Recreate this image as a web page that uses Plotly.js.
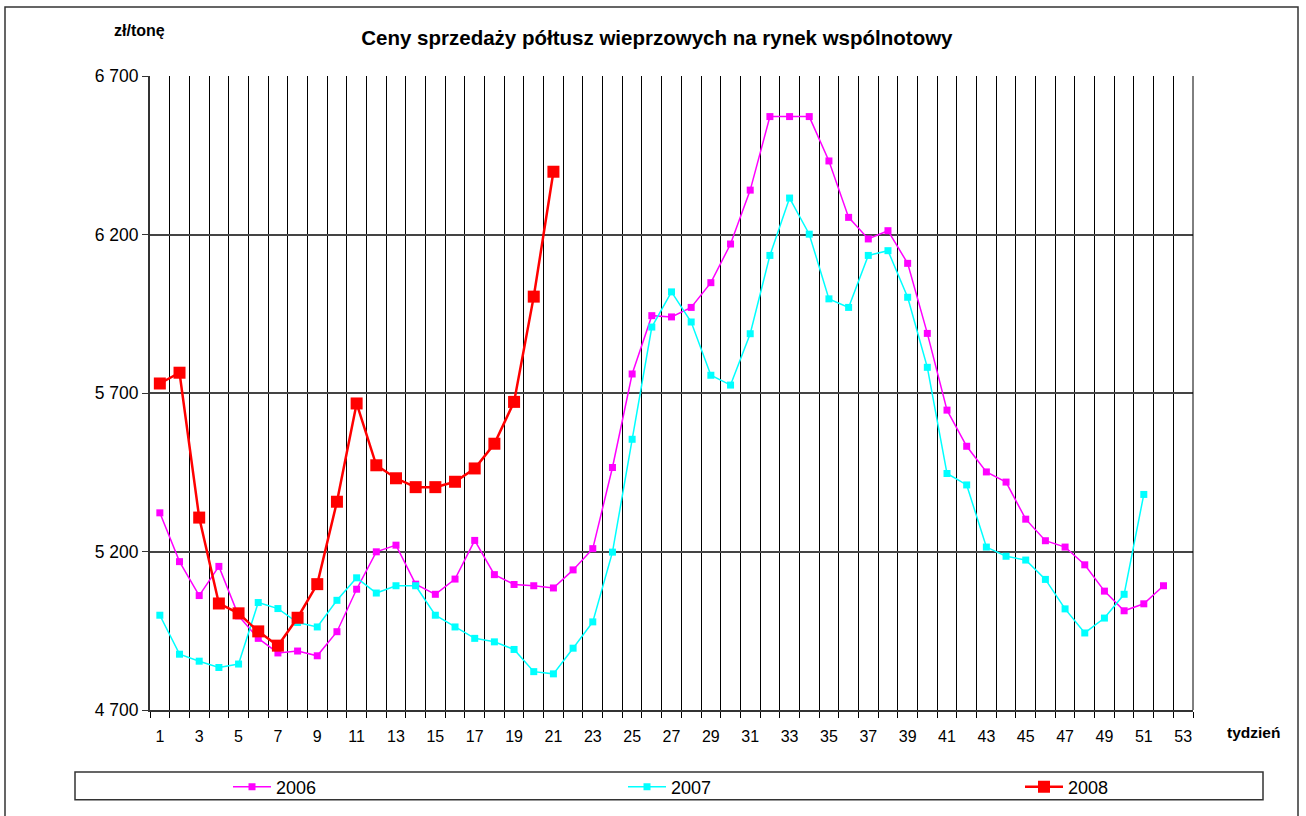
<!DOCTYPE html>
<html>
<head>
<meta charset="utf-8">
<script src="https://cdn.plot.ly/plotly-3.0.1.min.js"></script>
<style>html,body{margin:0;padding:0;background:#fff;}#chart{width:1306px;height:816px;}</style>
</head>
<body>
<div id="chart"></div>
<script>
const weeks2006 = Array.from({length: 52}, (_, i) => i + 1);
const weeks2007 = Array.from({length: 51}, (_, i) => i + 1);
const weeks2008 = Array.from({length: 21}, (_, i) => i + 1);

const prices2006 = [5322, 5168, 5061, 5153, 4997, 4926, 4880, 4886, 4871, 4947,
  5081, 5199, 5220, 5097, 5065, 5113, 5235, 5127, 5096, 5092,
  5085, 5142, 5209, 5465, 5760, 5944, 5940, 5970, 6048, 6170,
  6340, 6572, 6572, 6572, 6432, 6254, 6186, 6212, 6109, 5888,
  5646, 5532, 5451, 5419, 5302, 5234, 5214, 5158, 5075, 5013,
  5035, 5092];
const prices2007 = [4999, 4876, 4854, 4834, 4845, 5039, 5020, 4976, 4962, 5046,
  5117, 5069, 5092, 5092, 4999, 4962, 4926, 4915, 4891, 4821,
  4814, 4895, 4978, 5198, 5554, 5908, 6019, 5924, 5756, 5725,
  5887, 6134, 6315, 6201, 5997, 5970, 6134, 6149, 6002, 5781,
  5446, 5410, 5214, 5185, 5173, 5112, 5019, 4943, 4990, 5065,
  5380];
const prices2008 = [5730, 5764, 5307, 5036, 5005, 4948, 4903, 4991, 5097, 5357,
  5667, 5472, 5431, 5403, 5403, 5420, 5462, 5540, 5672, 6004,
  6398];

const xTickVals = Array.from({length: 27}, (_, i) => 2 * i + 1);
const yTickVals = [4700, 5200, 5700, 6200, 6700];

const W = 1043, H = 635; // plot area size for paper conversions
const px = x => (x - 150) / W;
const py = y => (711 - y) / H;

const traces = [
  {x: weeks2006, y: prices2006, name: '2006', type: 'scatter', mode: 'lines+markers', legend: 'legend',
   line: {color: '#FF00FF', width: 1.5}, marker: {symbol: 'square', size: 7, color: '#FF00FF'}},
  {x: weeks2007, y: prices2007, name: '2007', type: 'scatter', mode: 'lines+markers', legend: 'legend2',
   line: {color: '#00FFFF', width: 1.5}, marker: {symbol: 'square', size: 7, color: '#00FFFF'}},
  {x: weeks2008, y: prices2008, name: '2008', type: 'scatter', mode: 'lines+markers', legend: 'legend3',
   line: {color: '#FF0000', width: 2.5}, marker: {symbol: 'square', size: 12, color: '#FF0000'}}
];

const legendBase = {
  orientation: 'h', xanchor: 'left', y: py(787), yanchor: 'middle',
  font: {size: 18}, bgcolor: 'rgba(0,0,0,0)', borderwidth: 0, itemwidth: 38
};

const layout = {
  width: 1306, height: 816,
  margin: {l: 150, r: 113, t: 76, b: 105},
  paper_bgcolor: '#ffffff', plot_bgcolor: '#ffffff',
  font: {family: 'Liberation Sans, Arial, sans-serif', color: '#000', size: 16},
  separators: ', ',
  showlegend: true,
  title: {text: '<b>Ceny sprzedaży półtusz wieprzowych na rynek wspólnotowy</b>',
          font: {size: 20.5, family: 'Liberation Sans, Arial, sans-serif'},
          x: 0.503, xanchor: 'center', y: 1 - 38/816, yanchor: 'middle'},
  xaxis: {
    range: [0.5, 53.5], tickvals: xTickVals, ticks: '', showgrid: false,
    zeroline: false, showline: true, linecolor: '#333', linewidth: 2,
    tickfont: {size: 16}, ticklabelstandoff: 11,
    minor: {tick0: 0.5, dtick: 1, showgrid: true, gridcolor: '#000', gridwidth: 1,
            ticks: 'outside', ticklen: 6, tickcolor: '#000', tickwidth: 1},
    fixedrange: true
  },
  yaxis: {
    range: [4700, 6700], tickvals: yTickVals, tickformat: ',d',
    showgrid: true, gridcolor: '#444', gridwidth: 2, zeroline: false,
    showline: true, linecolor: '#333', linewidth: 2,
    ticks: 'outside', ticklen: 6, tickcolor: '#333', tickfont: {size: 17.5},
    fixedrange: true
  },
  legend: Object.assign({}, legendBase, {x: px(228)}),
  legend2: Object.assign({}, legendBase, {x: px(623)}),
  legend3: Object.assign({}, legendBase, {x: px(1020)}),
  shapes: [
    {type: 'rect', xref: 'paper', yref: 'paper', x0: px(75), x1: px(1263), y0: py(801), y1: py(773),
     line: {color: '#333', width: 1.5}, fillcolor: 'rgba(0,0,0,0)', layer: 'below'},
    {type: 'rect', xref: 'paper', yref: 'paper', x0: px(5), x1: px(1298), y0: py(830), y1: py(7),
     line: {color: '#333', width: 1.5}, fillcolor: 'rgba(0,0,0,0)', layer: 'below'},
    {type: 'line', xref: 'paper', yref: 'paper', x0: 1, x1: 1, y0: 0, y1: 1,
     line: {color: '#000', width: 1}}
  ],
  annotations: [
    {text: '<b>zł/tonę</b>', xref: 'paper', yref: 'paper', x: px(139), y: py(30),
     xanchor: 'center', yanchor: 'middle', showarrow: false, font: {size: 16}},
    {text: '<b>tydzień</b>', xref: 'paper', yref: 'paper', x: px(1253), y: py(734),
     xanchor: 'center', yanchor: 'middle', showarrow: false, font: {size: 15.5}}
  ]
};

Plotly.newPlot('chart', traces, layout, {displayModeBar: false, staticPlot: true});
</script>
</body>
</html>
